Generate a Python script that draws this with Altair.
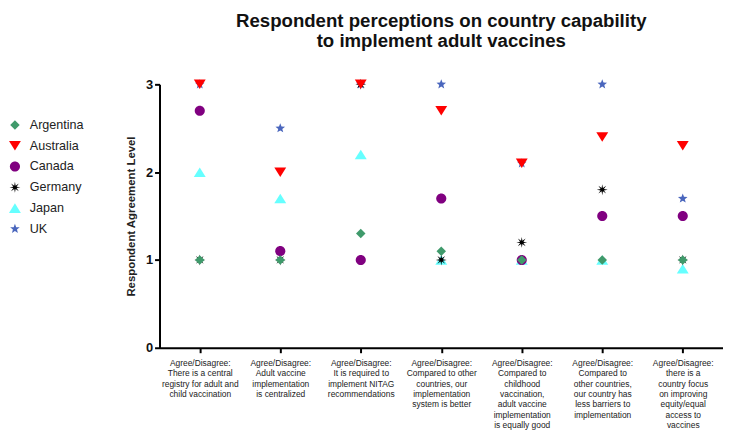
import math
import altair as alt
import pandas as pd

categories = [
    "Agree/Disagree:|There is a central|registry for adult and|child vaccination",
    "Agree/Disagree:|Adult vaccine|implementation|is centralized",
    "Agree/Disagree:|It is required to|implement NITAG|recommendations",
    "Agree/Disagree:|Compared to other|countries, our|implementation|system is better",
    "Agree/Disagree:|Compared to|childhood|vaccination,|adult vaccine|implementation|is equally good",
    "Agree/Disagree:|Compared to|other countries,|our country has|less barriers to|implementation",
    "Agree/Disagree:|there is a|country focus|on improving|equity/equal|access to|vaccines",
]
countries = ["Argentina", "Australia", "Canada", "Germany", "Japan", "UK"]
argentina = [1.0, 1.0, 1.3, 1.1, 1.0, 1.0, 1.0]
australia = [3.0, 2.0, 3.0, 2.7, 2.1, 2.4, 2.3]
canada = [2.7, 1.1, 1.0, 1.7, 1.0, 1.5, 1.5]
germany = [1.0, 1.0, 3.0, 1.0, 1.2, 1.8, 1.0]
japan = [2.0, 1.7, 2.2, 1.0, 1.0, 1.0, 0.9]
uk = [3.0, 2.5, 3.0, 3.0, 2.1, 3.0, 1.7]

series = {
    "Argentina": argentina,
    "Australia": australia,
    "Canada": canada,
    "Germany": germany,
    "Japan": japan,
    "UK": uk,
}

colors = ["#3f9a6b", "#ff0000", "#800080", "#000000", "#66ffff", "#4a66bd"]


def poly(points):
    return "M" + "L".join(f"{x:.3f},{y:.3f}" for x, y in points) + "Z"


def radial(n, r_out, r_in, start=-90):
    pts = []
    for k in range(n):
        a = math.radians(start + k * 360 / n)
        pts.append((r_out * math.cos(a), r_out * math.sin(a)))
        b = math.radians(start + (k + 0.5) * 360 / n)
        pts.append((r_in * math.cos(b), r_in * math.sin(b)))
    return poly(pts)


diamond = poly([(0, -0.8), (0.8, 0), (0, 0.8), (-0.8, 0)])
tri_down = poly([(-1, -0.8), (1, -0.8), (0, 0.8)])
tri_up = poly([(-1, 0.8), (1, 0.8), (0, -0.8)])
circle = "M-0.85,0A0.85,0.85 0 1,0 0.85,0A0.85,0.85 0 1,0 -0.85,0Z"
asterisk = radial(8, 0.92, 0.3)
star = radial(5, 0.85, 0.36)

shapes = [diamond, tri_down, circle, asterisk, tri_up, star]

rows = []
for c in reversed(countries):
    for cat, v in zip(categories, series[c]):
        rows.append({"cat": cat, "country": c, "value": v})
df = pd.DataFrame(rows)

font = "Liberation Sans"

chart = (
    alt.Chart(df)
    .mark_point(filled=True, opacity=1, size=144)
    .encode(
        x=alt.X(
            "cat:N",
            sort=categories,
            scale=alt.Scale(type="point", padding=0.5),
            axis=alt.Axis(
                title=None,
                labelExpr="split(datum.value, '|')",
                labelAngle=0,
                labelFontSize=8.5,
                labelLineHeight=10.4,
                labelBaseline="top",
                labelPadding=6,
                labelColor="#222",
                labelFont=font,
                tickSize=5,
                tickWidth=2,
                labelLimit=200,
            ),
        ),
        y=alt.Y(
            "value:Q",
            scale=alt.Scale(domain=[0, 3], nice=False),
            axis=alt.Axis(
                title="Respondent Agreement Level",
                values=[0, 1, 2, 3],
                format="d",
                labelFontSize=13,
                labelFontWeight="bold",
                labelColor="#111",
                labelFont=font,
                labelPadding=2,
                tickSize=5,
                tickWidth=2,
                titleFontSize=11.5,
                titleFontWeight="bold",
                titleColor="#222",
                titleFont=font,
                titlePadding=9,
                grid=False,
            ),
        ),
        color=alt.Color(
            "country:N",
            scale=alt.Scale(domain=countries, range=colors),
            legend=alt.Legend(
                title=None,
                orient="none",
                legendX=-153,
                legendY=34,
                labelFontSize=12.7,
                labelFont=font,
                labelColor="#222",
                labelOffset=8,
                rowPadding=7,
                symbolSize=144,
            ),
        ),
        shape=alt.Shape(
            "country:N",
            scale=alt.Scale(domain=countries, range=shapes),
        ),
    )
    .properties(
        width=569,
        height=266,
        title=alt.TitleParams(
            text=[
                "Respondent perceptions on country capability",
                "to implement adult vaccines",
            ],
            fontSize=18.8,
            fontWeight="bold",
            font=font,
            color="#111",
            lineHeight=20,
            anchor="middle",
            offset=28,
        ),
        autosize=alt.AutoSizeParams(type="none"),
        padding={"left": 153, "top": 75, "right": 0, "bottom": 85},
    )
    .configure_view(stroke=None)
    .configure_axis(domainColor="#000", domainWidth=2, tickColor="#000")
)

chart.save("out.html", embed_options={"renderer": "svg", "actions": False})
